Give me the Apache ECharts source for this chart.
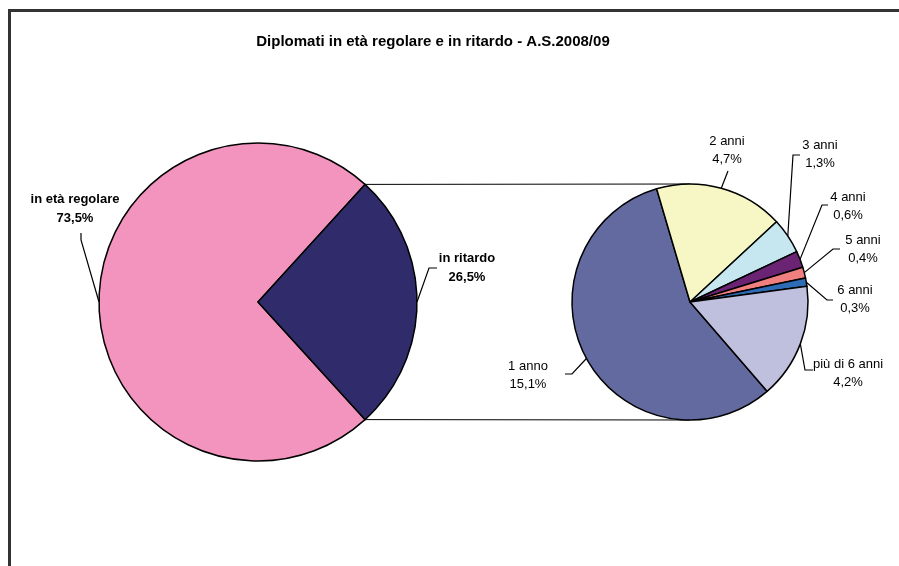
<!DOCTYPE html>
<html>
<head>
<meta charset="utf-8">
<style>
  html, body { margin: 0; padding: 0; background: #fff; }
  #chart { width: 899px; height: 566px; }
</style>
<script src="https://cdn.jsdelivr.net/npm/echarts@6/dist/echarts.min.js"></script>
</head>
<body>
<div id="chart"></div>
<script>
// dati
const mainNames = ['in età regolare', 'in ritardo'];
const mainValues = [73.5, 26.5];
const subNames = ['1 anno', '2 anni', '3 anni', '4 anni', '5 anni', '6 anni', 'più di 6 anni'];
const subValues = [15.1, 4.7, 1.3, 0.6, 0.4, 0.3, 4.2];
const titleText = 'Diplomati in età regolare e in ritardo - A.S.2008/09';

const mainColors = ['#F394BF', '#302C6C'];
const subColors = ['#636A9F', '#F7F7C6', '#C6E7F0', '#6B2473', '#F08080', '#2E6BB5', '#BFBFDE'];

// geometria delle due torte
const L = { cx: 258, cy: 302, r: 159 };
const R = { cx: 690, cy: 302, r: 118 };
const sumMain = mainValues.reduce((a, b) => a + b, 0);
const ritardoHalf = mainValues[1] / sumMain * 180;
const mainStart = ritardoHalf + mainValues[0] / sumMain * 360;
const subStart = 310.8;

// posizione delle etichette (centro del testo) e punti della linea guida
const labelPos = {
  'in età regolare': { x: 75, y: 209, line: [[81, 240], [81, 233]] },
  'in ritardo': { x: 467, y: 268, line: [[429, 268], [437, 268]] },
  '1 anno': { x: 528, y: 375, line: [[572, 374], [565, 374]] },
  '2 anni': { x: 727, y: 150, line: [[728, 171]] },
  '3 anni': { x: 820, y: 154, line: [[793, 155], [800, 155]] },
  '4 anni': { x: 848, y: 206, line: [[822, 205], [828, 205]] },
  '5 anni': { x: 863, y: 249, line: [[833, 249], [840, 249]] },
  '6 anni': { x: 855, y: 299, line: [[827, 300], [833, 300]] },
  'più di 6 anni': { x: 848, y: 373, line: [[805, 370], [813, 370]] }
};

// punto sul bordo a metà di ogni fetta
function midEdges(values, start, g) {
  const sum = values.reduce((a, b) => a + b, 0);
  let a = start;
  return values.map((v) => {
    const span = v / sum * 360;
    const mid = (a - span / 2) * Math.PI / 180;
    a -= span;
    return [g.cx + g.r * Math.cos(mid), g.cy - g.r * Math.sin(mid)];
  });
}
const mainEdges = midEdges(mainValues, mainStart, L);
const subEdges = midEdges(subValues, subStart, R);

function fmt(p) {
  return p.name + '\n' + p.value.toFixed(1).replace('.', ',') + '%';
}

function layoutFor(names, edges) {
  return function (params) {
    const name = names[params.dataIndex];
    const pos = labelPos[name];
    return {
      x: pos.x,
      y: pos.y,
      align: 'center',
      verticalAlign: 'middle',
      labelLinePoints: [edges[params.dataIndex]].concat(pos.line)
    };
  };
}

const font = "'Liberation Sans', Arial, sans-serif";

// linee di collegamento tra le due torte
const a = ritardoHalf * Math.PI / 180;
const topFrom = [L.cx + L.r * Math.cos(a), L.cy - L.r * Math.sin(a)];
const botFrom = [L.cx + L.r * Math.cos(a), L.cy + L.r * Math.sin(a)];

const myChart = echarts.init(document.getElementById('chart'));
const option = {
  animation: false,
  backgroundColor: '#fff',
  graphic: [
    {
      type: 'rect',
      shape: { x: 9.5, y: 10.5, width: 1000, height: 1000 },
      style: { fill: 'none', stroke: '#333', lineWidth: 3 }
    },
    {
      type: 'text',
      x: 433, y: 42,
      style: {
        text: titleText, fill: '#000', font: 'bold 15px ' + font,
        textAlign: 'center', textVerticalAlign: 'middle'
      }
    },
    {
      type: 'line',
      shape: { x1: topFrom[0], y1: topFrom[1], x2: R.cx, y2: R.cy - R.r },
      style: { stroke: '#000', lineWidth: 1 }
    },
    {
      type: 'line',
      shape: { x1: botFrom[0], y1: botFrom[1], x2: R.cx, y2: R.cy + R.r },
      style: { stroke: '#000', lineWidth: 1 }
    }
  ],
  series: [
    {
      type: 'pie',
      center: [L.cx, L.cy],
      radius: [0, L.r],
      startAngle: mainStart,
      avoidLabelOverlap: false,
      emphasis: { disabled: true },
      itemStyle: { borderColor: '#000', borderWidth: 1.5 },
      label: {
        show: true, position: 'outside', formatter: fmt,
        color: '#000', fontFamily: font, fontSize: 13, fontWeight: 'bold', lineHeight: 19
      },
      labelLine: { show: true, lineStyle: { color: '#000', width: 1.2 } },
      labelLayout: layoutFor(mainNames, mainEdges),
      data: mainNames.map((n, i) => ({ name: n, value: mainValues[i], itemStyle: { color: mainColors[i] } }))
    },
    {
      type: 'pie',
      center: [R.cx, R.cy],
      radius: [0, R.r],
      startAngle: subStart,
      avoidLabelOverlap: false,
      emphasis: { disabled: true },
      itemStyle: { borderColor: '#000', borderWidth: 1.5 },
      label: {
        show: true, position: 'outside', formatter: fmt,
        color: '#000', fontFamily: font, fontSize: 13, lineHeight: 18
      },
      labelLine: { show: true, lineStyle: { color: '#000', width: 1.2 } },
      labelLayout: layoutFor(subNames, subEdges),
      data: subNames.map((n, i) => ({ name: n, value: subValues[i], itemStyle: { color: subColors[i] } }))
    }
  ]
};
myChart.setOption(option);
</script>
</body>
</html>
